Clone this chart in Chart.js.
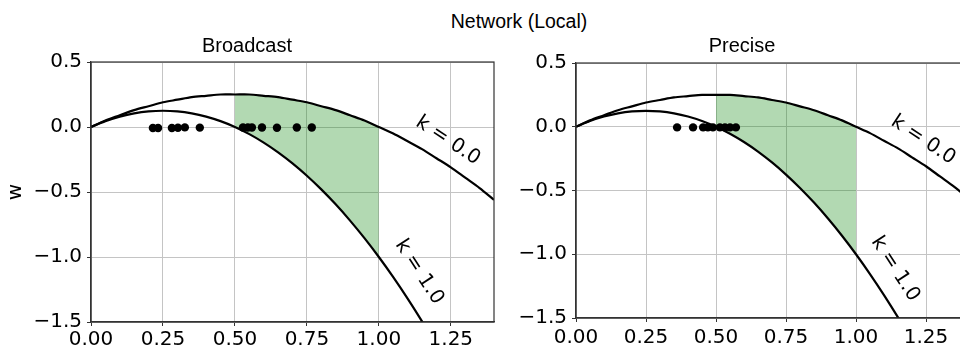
<!DOCTYPE html>
<html>
<head>
<meta charset="utf-8">
<script src="https://cdn.jsdelivr.net/npm/chart.js@4.4.0/dist/chart.umd.min.js"></script>
<style>
  body { margin: 0; width: 960px; height: 348px; overflow: hidden; background: #fff; position: relative; }
  #sup { position: absolute; left: 0; width: 1038px; top: 10px; line-height: 22px; text-align: center;
         font: 19.5px "Liberation Sans", Arial, sans-serif; color: #000; }
  #left { position: absolute; left: 0; top: 0; width: 520px; height: 348px; }
  #right { position: absolute; left: 496px; top: 0; width: 520px; height: 348px; }
</style>
</head>
<body>
<div id="sup">Network (Local)</div>
<div id="left"><canvas id="chartBroadcast"></canvas></div>
<div id="right"><canvas id="chartPrecise"></canvas></div>

<script>
const xs = [0, 0.05, 0.1, 0.15, 0.2, 0.25, 0.3, 0.35, 0.4, 0.45, 0.5, 0.55, 0.6, 0.65, 0.7,
            0.75, 0.8, 0.85, 0.9, 0.95, 1.0, 1.05, 1.1, 1.15, 1.2, 1.25, 1.3, 1.35, 1.4];
// curve k = 0.0
const wK0 = [0, 0.05, 0.09, 0.13, 0.16, 0.19, 0.21, 0.23, 0.24, 0.25, 0.25, 0.25, 0.24, 0.23, 0.21,
             0.19, 0.16, 0.13, 0.09, 0.05, 0, -0.05, -0.11, -0.17, -0.24, -0.31, -0.39, -0.47, -0.56];
// curve k = 1.0 (loopt onder de as weg na x = 1.2)
const wK1 = [0, 0.045, 0.08, 0.105, 0.12, 0.125, 0.12, 0.105, 0.08, 0.045, 0, -0.055, -0.12, -0.195, -0.28,
             -0.375, -0.48, -0.595, -0.72, -0.855, -1.0, -1.155, -1.32, -1.495, -1.68];

// groen gebied tussen de curves
const fillFrom = 0.5;
const fillTo = 1.0;

// punten Broadcast
const broadcastX = [0.215, 0.233, 0.281, 0.302, 0.326, 0.378, 0.528, 0.545, 0.559, 0.594, 0.646, 0.715, 0.767];
const broadcastW = [-0.008, -0.008, -0.008, -0.006, -0.003, -0.005, -0.004, -0.004, -0.004, -0.004, -0.006, -0.004, -0.004];
// punten Precise
const preciseX = [0.361, 0.418, 0.454, 0.471, 0.489, 0.514, 0.532, 0.55, 0.571];
const preciseW = [-0.005, -0.005, -0.005, -0.005, -0.005, -0.005, -0.005, -0.005, -0.005];

// ticks
const xTicks = [0, 0.25, 0.5, 0.75, 1.0, 1.25];
const xTickLabels = ['0.00', '0.25', '0.50', '0.75', '1.00', '1.25'];
const yTicks = [-1.5, -1.0, -0.5, 0, 0.5];
const yTickLabels = ['\u22121.5', '\u22121.0', '\u22120.5', '0.0', '0.5'];

const curveLabels = ['k = 0.0', 'k = 1.0'];

const tickFont = { family: '"DejaVu Sans"', size: 20 };
const titleFont = { family: '"Liberation Sans", Arial', size: 20, weight: 'normal' };

function toPoints(x, w) {
  return w.map((v, i) => ({ x: x[i], y: v }));
}

// rand van de assen (alle vier zijden)
const spinePlugin = {
  id: 'spines',
  afterDraw(chart) {
    const { ctx, chartArea: a } = chart;
    ctx.save();
    ctx.strokeStyle = '#333';
    ctx.lineWidth = 1.2;
    ctx.strokeRect(a.left, a.top, a.right - a.left, a.bottom - a.top);
    ctx.restore();
  }
};

// schuine labels bij de curves
const curveLabelPlugin = {
  id: 'curveLabels',
  afterDatasetsDraw(chart, args, opts) {
    const { ctx, scales: { x, y } } = chart;
    ctx.save();
    ctx.font = '20px "DejaVu Sans"';
    ctx.fillStyle = '#000';
    ctx.textAlign = 'center';
    ctx.textBaseline = 'middle';
    opts.items.forEach(it => {
      ctx.save();
      ctx.translate(x.getPixelForValue(it.x), y.getPixelForValue(it.w));
      ctx.rotate(it.angle * Math.PI / 180);
      ctx.fillText(it.text, 0, 0);
      ctx.restore();
    });
    ctx.restore();
  }
};

function makeChart(id, title, dotsX, dotsW, cfg) {
  const curve0 = toPoints(xs, wK0);
  const curve1 = toPoints(xs, wK1);
  const fillTop = curve0.filter(p => p.x >= fillFrom && p.x <= fillTo);
  const fillBottom = curve1.filter(p => p.x >= fillFrom && p.x <= fillTo);

  const ctx = document.getElementById(id).getContext('2d');
  return new Chart(ctx, {
    type: 'line',
    data: {
      datasets: [
        { data: toPoints(dotsX, dotsW), showLine: false, pointRadius: 4.2, pointBackgroundColor: '#000',
          pointBorderWidth: 0, order: 0 },
        { data: curve0, borderColor: '#000', borderWidth: 2.2, pointRadius: 0, tension: 0.3, fill: false, order: 1 },
        { data: curve1, borderColor: '#000', borderWidth: 2.2, pointRadius: 0, tension: 0.3, fill: false, order: 1 },
        { data: fillTop, borderColor: 'rgba(0,0,0,0)', borderWidth: 0, pointRadius: 0, tension: 0.3,
          backgroundColor: 'rgba(0,128,0,0.3)', fill: '+1', order: 2 },
        { data: fillBottom, borderColor: 'rgba(0,0,0,0)', borderWidth: 0, pointRadius: 0, tension: 0.3,
          fill: false, order: 2 }
      ]
    },
    options: {
      responsive: true,
      maintainAspectRatio: false,
      animation: false,
      layout: { padding: cfg.padding },
      plugins: {
        legend: { display: false },
        tooltip: { enabled: false },
        title: {
          display: true,
          text: title,
          color: '#000',
          font: titleFont,
          padding: cfg.titlePadding
        },
        curveLabels: {
          items: [
            { text: curveLabels[0], x: 1.24, w: -0.105, angle: 33.5 },
            { text: curveLabels[1], x: 1.14, w: -1.115, angle: 57 }
          ]
        }
      },
      scales: {
        x: {
          type: 'linear',
          min: 0,
          max: 1.4,
          afterBuildTicks: s => { s.ticks = xTicks.map(v => ({ value: v })); },
          afterFit: s => { s.height = cfg.xHeight; },
          ticks: {
            callback: (v, i) => xTickLabels[i],
            font: tickFont,
            color: '#000',
            padding: cfg.xPad,
            maxRotation: 0,
            autoSkip: false
          },
          grid: { color: '#c4c4c4', lineWidth: 1, tickLength: 4, tickColor: '#333' },
          border: { display: true, color: '#333', width: 1.2 }
        },
        y: {
          min: -1.5,
          max: 0.5,
          afterBuildTicks: s => { s.ticks = yTicks.map(v => ({ value: v })); },
          afterFit: s => { s.width = cfg.yWidth; },
          ticks: {
            callback: (v, i) => yTickLabels[i],
            font: tickFont,
            color: '#000',
            padding: 5,
            autoSkip: false
          },
          grid: { color: '#c4c4c4', lineWidth: 1, tickLength: 4, tickColor: '#333' },
          border: { display: true, color: '#333', width: 1.2 },
          title: {
            display: cfg.showYTitle,
            text: 'w',
            color: '#000',
            font: { family: '"DejaVu Sans"', size: 20 },
            padding: { top: 4, bottom: 0 }
          }
        }
      }
    },
    plugins: [spinePlugin, curveLabelPlugin]
  });
}

makeChart('chartBroadcast', 'Broadcast', broadcastX, broadcastW, {
  padding: { left: 0, right: 26, top: 29, bottom: 0 },
  titlePadding: { top: 5, bottom: 4 },
  xHeight: 26, yWidth: 91, xPad: 2, showYTitle: true
});

makeChart('chartPrecise', 'Precise', preciseX, preciseW, {
  padding: { left: 20, right: 48, top: 29, bottom: 0 },
  titlePadding: { top: 5, bottom: 5 },
  xHeight: 30, yWidth: 60, xPad: 4, showYTitle: false
});
</script>
</body>
</html>
